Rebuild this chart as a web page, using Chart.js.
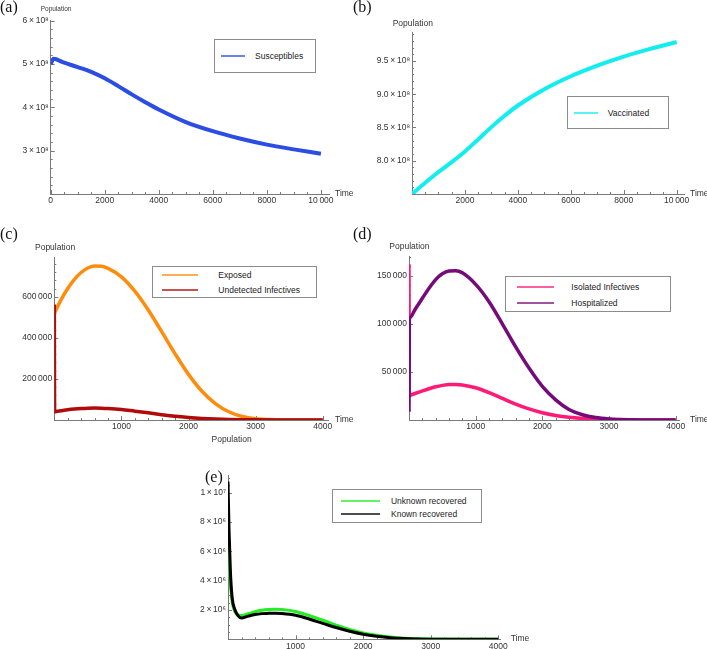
<!DOCTYPE html>
<html>
<head>
<meta charset="utf-8">
<script src="https://cdn.jsdelivr.net/npm/chart.js@4.4.1/dist/chart.umd.min.js"></script>
<style>
  body { margin: 0; width: 707px; height: 649px; position: relative; overflow: hidden; background: #fff;
         font-family: "Liberation Sans", Arial, sans-serif; color: #333; }
  canvas { position: absolute; }
  .tag { position: absolute; font-family: "Liberation Serif", "Times New Roman", serif; font-size: 16px; line-height: 1; color: #111; }
  .lab { position: absolute; font-size: 8.5px; line-height: 1; transform: translateY(-50%); white-space: nowrap; }
  .legend { position: absolute; border: 1px solid #8c8c8c; background: #fff; box-sizing: border-box; }
  .legend .row { position: absolute; left: 0; right: 0; height: 0; }
  .legend .sw { position: absolute; height: 2px; top: -1px; opacity: 0.7; }
  .legend .tx { position: absolute; font-size: 8.5px; line-height: 1; transform: translateY(-50%); white-space: nowrap; color: #222; }
</style>
</head>
<body>
<script>
// (a) susceptibles
const timeA = [0, 100, 500, 1000, 1500, 2000, 2500, 3000, 3500, 4000, 5000, 6000, 7000, 8000, 9000, 10000];
const susceptibles = [5.0e8, 5.12e8, 5.03e8, 4.93e8, 4.82e8, 4.67e8, 4.49e8, 4.30e8, 4.12e8, 3.95e8, 3.66e8, 3.45e8, 3.28e8, 3.14e8, 3.03e8, 2.93e8];

// (b) vaccinated
const timeB = [0, 500, 1000, 1500, 2000, 2500, 3000, 3500, 4000, 5000, 6000, 7000, 8000, 9000, 10000];
const vaccinated = [7.50e8, 7.67e8, 7.83e8, 7.98e8, 8.14e8, 8.32e8, 8.505e8, 8.675e8, 8.83e8, 9.075e8, 9.27e8, 9.43e8, 9.565e8, 9.68e8, 9.785e8];

// (c) exposed / undetected infectives, (d) isolated / hospitalized
const timeCD = [0, 5, 6, 100, 200, 300, 400, 500, 600, 700, 800, 1000, 1200, 1400, 1600, 1800, 2000, 2200, 2400, 2600, 2800, 3000, 3300, 3600, 4000];
const exposed = [519000, 522300, 523000, 585000, 640000, 685000, 718000, 740000, 749000, 748000, 738000, 697000, 627000, 535000, 430000, 322000, 222000, 140000, 80000, 40000, 17000, 6000, 1500, 300, 0];
const undetected = [562000, 40000, 40050, 45000, 50000, 53500, 56000, 57500, 58000, 57500, 56000, 51000, 43000, 35000, 26000, 18000, 12000, 7500, 4500, 2500, 1300, 700, 250, 80, 0];
const isolated = [162000, 25300, 25330, 27800, 30200, 32500, 34500, 36000, 37000, 37000, 36500, 33500, 28500, 22500, 16500, 11500, 7500, 4700, 2800, 1600, 900, 500, 200, 60, 0];
const hospitalized = [8700, 105900, 106000, 116000, 126500, 137000, 146000, 152000, 155000, 155300, 153000, 141000, 123000, 100000, 76000, 54000, 35000, 21000, 11000, 5500, 2500, 1100, 300, 80, 0];

// (e) recovered
const timeE = [0, 15, 35, 60, 100, 150, 200, 300, 400, 500, 600, 700, 800, 1000, 1200, 1400, 1600, 1800, 2000, 2200, 2400, 2600, 2800, 3000, 3500, 4000];
const unknownRecovered = [7.2e6, 5.6e6, 3.9e6, 2.6e6, 1.9e6, 1.65e6, 1.62e6, 1.74e6, 1.88e6, 1.98e6, 2.03e6, 2.05e6, 2.03e6, 1.9e6, 1.62e6, 1.3e6, 0.97e6, 0.67e6, 0.44e6, 0.27e6, 0.15e6, 0.075e6, 0.035e6, 0.015e6, 0.002e6, 0];
const knownRecovered = [10.75e6, 7.5e6, 4.7e6, 2.9e6, 2.05e6, 1.6e6, 1.45e6, 1.58e6, 1.69e6, 1.75e6, 1.77e6, 1.78e6, 1.76e6, 1.64e6, 1.38e6, 1.09e6, 0.8e6, 0.55e6, 0.35e6, 0.21e6, 0.11e6, 0.055e6, 0.025e6, 0.01e6, 0.001e6, 0];

// tick values and labels
const xTicksA = [0, 2000, 4000, 6000, 8000, 10000];
const xLabelsA = ["0", "2000", "4000", "6000", "8000", "10\u2009000"];
const xTicksB = [2000, 4000, 6000, 8000, 10000];
const xLabelsB = ["2000", "4000", "6000", "8000", "10\u2009000"];
const xTicksCDE = [1000, 2000, 3000, 4000];
const xLabelsCDE = ["1000", "2000", "3000", "4000"];
const yTicksA = [3e8, 4e8, 5e8, 6e8];
const yLabelsA = ["3\u2009×\u200910⁸", "4\u2009×\u200910⁸", "5\u2009×\u200910⁸", "6\u2009×\u200910⁸"];
const yTicksB = [8.0e8, 8.5e8, 9.0e8, 9.5e8];
const yLabelsB = ["8.0\u2009×\u200910⁸", "8.5\u2009×\u200910⁸", "9.0\u2009×\u200910⁸", "9.5\u2009×\u200910⁸"];
const yTicksC = [200000, 400000, 600000];
const yLabelsC = ["200\u2009000", "400\u2009000", "600\u2009000"];
const yTicksD = [50000, 100000, 150000];
const yLabelsD = ["50\u2009000", "100\u2009000", "150\u2009000"];
const yTicksE = [2e6, 4e6, 6e6, 8e6, 1e7];
const yLabelsE = ["2\u2009×\u200910⁶", "4\u2009×\u200910⁶", "6\u2009×\u200910⁶", "8\u2009×\u200910⁶", "1\u2009×\u200910⁷"];

const AXIS = "#7a7a7a";
const tickFont = { family: "'Liberation Sans', Arial, sans-serif", size: 8.5 };

// Mathematica-style inward ticks
const mmaAxes = {
  id: "mmaAxes",
  beforeDatasetsDraw(chart, args, opts) {
    const { ctx, chartArea, scales: { x, y } } = chart;
    ctx.save();
    ctx.strokeStyle = AXIS;
    ctx.lineWidth = 1;
    ctx.beginPath();
    const marks = (scale, step, len, horiz) => {
      for (let k = Math.ceil(scale.min / step - 1e-9); k * step <= scale.max + 1e-6; k++) {
        const p = Math.round(scale.getPixelForValue(k * step)) + 0.5;
        if (horiz) { ctx.moveTo(p, chartArea.bottom); ctx.lineTo(p, chartArea.bottom - len); }
        else { ctx.moveTo(chartArea.left, p); ctx.lineTo(chartArea.left + len, p); }
      }
    };
    marks(x, opts.xMinor, 2, true);
    marks(x, opts.xMajor, 4, true);
    marks(y, opts.yMinor, 2, false);
    marks(y, opts.yMajor, 4, false);
    ctx.stroke();
    ctx.restore();
  },
};

function addText(cls, text, left, top, size) {
  const d = document.createElement("div");
  d.className = cls;
  d.textContent = text;
  d.style.left = left + "px";
  d.style.top = top + "px";
  if (size) d.style.fontSize = size + "px";
  document.body.appendChild(d);
}

function makePanel(p) {
  const [cx, cy, cw, ch] = p.box;
  const [L, T, R, B] = p.area;
  const canvas = document.createElement("canvas");
  canvas.width = cw;
  canvas.height = ch;
  canvas.style.left = cx + "px";
  canvas.style.top = cy + "px";
  document.body.appendChild(canvas);

  const chart = new Chart(canvas, {
    type: "line",
    data: {
      datasets: p.series.map((s) => ({
        label: s.label,
        data: s.t.map((t, i) => ({ x: t, y: s.v[i] })),
        borderColor: s.color,
        borderWidth: s.width,
        pointRadius: 0,
        fill: false,
        cubicInterpolationMode: "monotone",
        order: s.order || 0,
      })),
    },
    options: {
      responsive: false,
      animation: false,
      devicePixelRatio: 1,
      layout: { padding: { left: 0, top: T - cy, right: cx + cw - R, bottom: 0 } },
      plugins: {
        legend: { display: false },
        tooltip: { enabled: false },
        mmaAxes: p.marks,
      },
      scales: {
        x: {
          type: "linear",
          min: p.xMin, max: p.xMax,
          afterBuildTicks: (s) => { s.ticks = p.xTicks.map((v) => ({ value: v })); },
          afterFit: (s) => { s.height = cy + ch - B; },
          ticks: { callback: (v, i) => p.xLabels[i], autoSkip: false, maxRotation: 0, padding: 2, font: tickFont, color: "#333" },
          grid: { display: false, drawTicks: false },
          border: { color: AXIS },
        },
        y: {
          type: "linear",
          min: p.yMin, max: p.yMax,
          afterBuildTicks: (s) => { s.ticks = p.yTicks.map((v) => ({ value: v })); },
          afterFit: (s) => { s.width = L - cx; },
          ticks: { callback: (v, i) => p.yLabels[i], autoSkip: false, padding: 2, font: tickFont, color: "#333" },
          grid: { display: false, drawTicks: false },
          border: { color: AXIS },
        },
      },
    },
    plugins: [mmaAxes],
  });

  // legend built from the chart's datasets
  const lg = p.legend;
  const box = document.createElement("div");
  box.className = "legend";
  box.style.left = lg.box[0] + "px";
  box.style.top = lg.box[1] + "px";
  box.style.width = lg.box[2] + "px";
  box.style.height = lg.box[3] + "px";
  chart.data.datasets.forEach((ds, i) => {
    const row = document.createElement("div");
    row.className = "row";
    row.style.top = Math.round(lg.rows[i]) + "px";
    const sw = document.createElement("div");
    sw.className = "sw";
    sw.style.left = lg.swatch[0] + "px";
    sw.style.width = lg.swatch[1] + "px";
    sw.style.background = ds.borderColor;
    const tx = document.createElement("div");
    tx.className = "tx";
    tx.style.left = lg.textX + "px";
    tx.textContent = ds.label;
    row.appendChild(sw);
    row.appendChild(tx);
    box.appendChild(row);
  });
  document.body.appendChild(box);
}

makePanel({
  box: [0, 0, 345, 215], area: [50.7, 20.7, 329, 194],
  xMin: 0, xMax: 10300, yMin: 2e8, yMax: 6e8,
  xTicks: xTicksA, xLabels: xLabelsA, yTicks: yTicksA, yLabels: yLabelsA,
  marks: { xMajor: 2000, xMinor: 500, yMajor: 1e8, yMinor: 2e7 },
  series: [{ label: "Susceptibles", t: timeA, v: susceptibles, color: "#2b4de4", width: 4 }],
  legend: { box: [214, 39.3, 102, 33.4], rows: [15.7], swatch: [6, 24], textX: 40 },
});

makePanel({
  box: [355, 0, 352, 215], area: [412, 32.3, 684.6, 194],
  xMin: 0, xMax: 10300, yMin: 7.5e8, yMax: 9.93e8,
  xTicks: xTicksB, xLabels: xLabelsB, yTicks: yTicksB, yLabels: yLabelsB,
  marks: { xMajor: 2000, xMinor: 500, yMajor: 5e7, yMinor: 1e7 },
  series: [{ label: "Vaccinated", t: timeB, v: vaccinated, color: "#12eef0", width: 4 }],
  legend: { box: [567.3, 96, 101.4, 33.3], rows: [16.3], swatch: [6, 24], textX: 39.4 },
});

makePanel({
  box: [0, 225, 345, 215], area: [54.3, 257.7, 328.1, 420],
  xMin: 0, xMax: 4080, yMin: 0, yMax: 790000,
  xTicks: xTicksCDE, xLabels: xLabelsCDE, yTicks: yTicksC, yLabels: yLabelsC,
  marks: { xMajor: 1000, xMinor: 200, yMajor: 200000, yMinor: 40000 },
  series: [
    { label: "Exposed", t: timeCD, v: exposed, color: "#ff8c0c", width: 3.5, order: 1 },
    { label: "Undetected Infectives", t: timeCD, v: undetected, color: "#b00a0a", width: 3.5 },
  ],
  legend: { box: [152.3, 266, 164.4, 32.3], rows: [8.3, 23.3], swatch: [8.7, 36.3], textX: 65 },
});

makePanel({
  box: [355, 225, 352, 215], area: [409, 256.5, 679, 420],
  xMin: 0, xMax: 4050, yMin: 0, yMax: 170000,
  xTicks: xTicksCDE, xLabels: xLabelsCDE, yTicks: yTicksD, yLabels: yLabelsD,
  marks: { xMajor: 1000, xMinor: 200, yMajor: 50000, yMinor: 10000 },
  series: [
    { label: "Isolated Infectives", t: timeCD, v: isolated, color: "#ff1a76", width: 3.5, order: 1 },
    { label: "Hospitalized", t: timeCD, v: hospitalized, color: "#760a7a", width: 3.5 },
  ],
  legend: { box: [505.3, 275.7, 165.7, 36.6], rows: [10, 25.6], swatch: [10.4, 37.6], textX: 65 },
});

makePanel({
  box: [170, 460, 360, 189], area: [228, 475, 500.3, 639.3],
  xMin: 0, xMax: 4030, yMin: 0, yMax: 11.2e6,
  xTicks: xTicksCDE, xLabels: xLabelsCDE, yTicks: yTicksE, yLabels: yLabelsE,
  marks: { xMajor: 1000, xMinor: 200, yMajor: 2e6, yMinor: 5e5 },
  series: [
    { label: "Unknown recovered", t: timeE, v: unknownRecovered, color: "#22ee22", width: 3, order: 1 },
    { label: "Known recovered", t: timeE, v: knownRecovered, color: "#000000", width: 3 },
  ],
  legend: { box: [332.3, 489.3, 149.4, 33.4], rows: [10.7, 24], swatch: [7.7, 39.3], textX: 57.7 },
});

// panel tags and axis captions
addText("tag", "(a)", 0, -1);
addText("tag", "(b)", 353, -1);
addText("tag", "(c)", 0, 226);
addText("tag", "(d)", 353, 226);
addText("tag", "(e)", 205, 469);
addText("lab", "Population", 40.7, 9.3, 6.5);
addText("lab", "Population", 392.7, 22.7);
addText("lab", "Population", 35, 246.7);
addText("lab", "Population", 389.3, 246);
addText("lab", "Population", 211.5, 439);
addText("lab", "Time", 335, 193);
addText("lab", "Time", 690, 193);
addText("lab", "Time", 335, 419);
addText("lab", "Time", 690, 419.3);
addText("lab", "Time", 510.7, 638.3);
</script>
</body>
</html>
